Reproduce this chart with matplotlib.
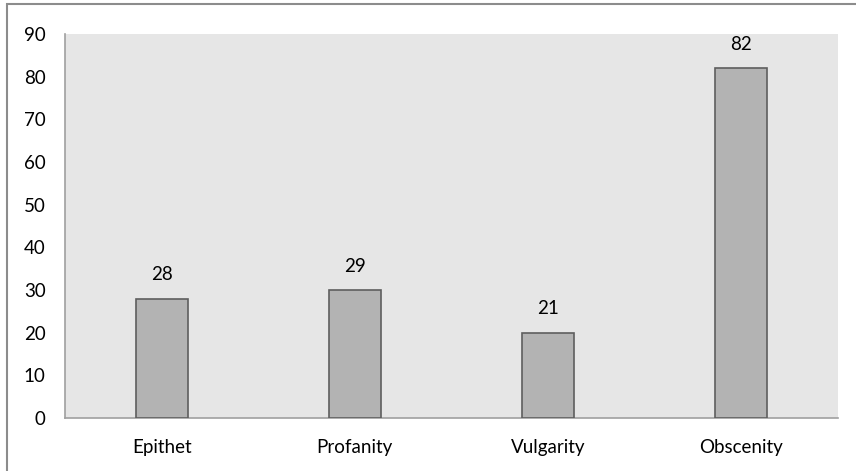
import matplotlib
matplotlib.use("Agg")
import matplotlib.pyplot as plt
from matplotlib.patches import Rectangle

categories = ["Epithet", "Profanity", "Vulgarity", "Obscenity"]
bar_heights = [28, 30, 20, 82]
bar_labels = ["28", "29", "21", "82"]
yticks = [0, 10, 20, 30, 40, 50, 60, 70, 80, 90]

plt.rcParams['font.family'] = ['Lato', 'DejaVu Sans']

fig = plt.figure(figsize=(8.56, 4.71), dpi=100)
ax = fig.add_axes([65/856, 1-418/471, (838-65)/856, (418-34)/471])
ax.set_facecolor("#e6e6e6")

x = range(len(categories))
bars = ax.bar(x, bar_heights, width=0.27, color="#b3b3b3", edgecolor="#5e5e5e", linewidth=1.2, zorder=3)
for b, lab in zip(bars, bar_labels):
    ax.annotate(lab, (b.get_x() + b.get_width()/2, b.get_height()),
                xytext=(0, 11), textcoords="offset points",
                ha="center", va="bottom", fontsize=13.5, color="#000000")

ax.set_xlim(-0.5, len(categories) - 0.5)
ax.set_ylim(0, 90)
ax.set_yticks(yticks)
ax.set_xticks(list(x))
ax.set_xticklabels(categories)
ax.tick_params(axis="both", length=0, labelsize=13.5, colors="#000000")
ax.tick_params(axis="y", pad=14)
ax.tick_params(axis="x", pad=15)

for s in ["top", "right"]:
    ax.spines[s].set_visible(False)
for s in ["left", "bottom"]:
    ax.spines[s].set_color("#a0a0a0")
    ax.spines[s].set_linewidth(1.2)

# outer frame around the chart
fig.patches.append(Rectangle((7/856, -0.2), 1.2, 1.2 - 4/471,
                             transform=fig.transFigure, fill=False,
                             edgecolor="#8c8c8c", linewidth=1.5))

fig.savefig("out.png", dpi=100)
